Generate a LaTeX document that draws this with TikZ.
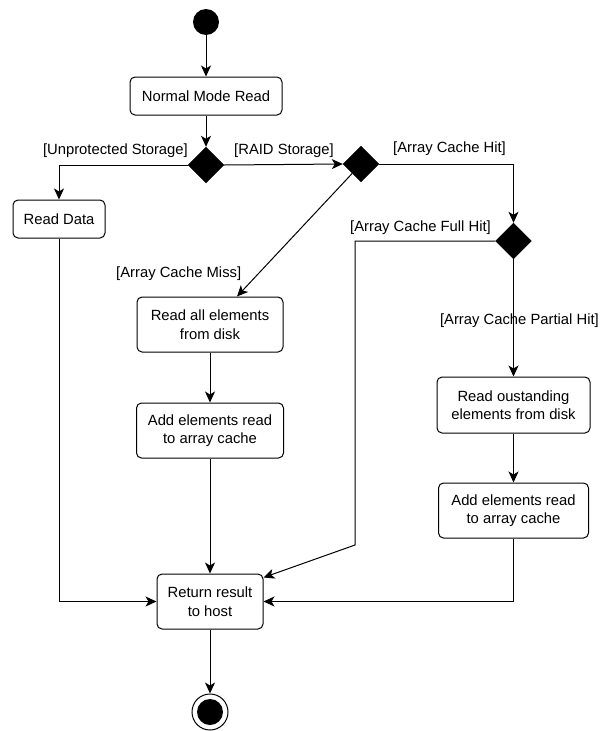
\documentclass[tikz,border=0pt]{standalone}
\usepackage{fontspec}
\setmainfont{Liberation Sans}
\usetikzlibrary{arrows.meta,shapes.geometric,calc}
\begin{document}
\begin{tikzpicture}[x=1pt,y=-1pt,
  every node/.style={font=\fontsize{14.8}{18.5}\selectfont},
  actbox/.style={draw,line width=1pt,rounded corners=5pt,align=center,inner sep=0pt},
  decision/.style={diamond,fill=black,draw=black,minimum width=36pt,minimum height=36pt,inner sep=0pt},
  guard/.style={inner sep=0pt},
  flow/.style={line width=1pt,-{Stealth[length=11pt,width=10pt,inset=3pt]}},
  wire/.style={line width=1pt}]
\useasboundingbox (0,0) rectangle (600,731);

% initial and final states
\node[circle,fill=black,minimum size=26pt,inner sep=0pt] (start) at (206,22) {};
\node[circle,draw,line width=1pt,minimum size=36pt,inner sep=0pt] (stop) at (210,712) {};
\node[circle,fill=black,minimum size=26pt,inner sep=0pt] (stopdot) at (210,712) {};

% activities
\node[actbox,minimum width=152pt,minimum height=38pt] (nmr) at (206,96) {Normal Mode Read};
\node[actbox,minimum width=92pt,minimum height=38pt] (rd) at (59,219) {Read Data};
\node[actbox,minimum width=146pt,minimum height=55pt] (rall) at (210,324.5) {Read all elements\\from disk};
\node[actbox,minimum width=147pt,minimum height=55pt] (addm) at (210,430.5) {Add elements read\\to array cache};
\node[actbox,minimum width=153pt,minimum height=56pt] (rout) at (513.5,405) {Read oustanding\\elements from disk};
\node[actbox,minimum width=150pt,minimum height=55pt] (addr) at (513.5,510.5) {Add elements read\\to array cache};
\node[actbox,minimum width=106pt,minimum height=55pt] (ret) at (210,601.5) {Return result\\to host};

% decisions
\node[decision] (d1) at (206,165) {};
\node[decision] (d2) at (361,164) {};
\node[decision] (d3) at (513.5,241) {};

% guards
\node[guard,anchor=east] (gunp) at (188,151) {[Unprotected Storage]};
\node[guard,anchor=west] (graid) at (234,151) {[RAID Storage]};
\node[guard,anchor=west] (ghit) at (393,149) {[Array Cache Hit]};
\node[guard,anchor=east] (gfull) at (491,228) {[Array Cache Full Hit]};
\node[guard,anchor=west] (gmiss) at (116,274) {[Array Cache Miss]};
\node[guard,anchor=east] (gpart) at (599,321) {[Array Cache Partial Hit]};

% helper points
\coordinate (missin) at ([xshift=27pt]rall.north);
\coordinate (fh1) at (355,241);
\coordinate (fh2) at (355,545);
\coordinate (fhin) at ([yshift=-4pt]ret.north east);

% flows
\draw[flow] (start) -- (nmr);
\draw[flow] (nmr) -- (d1);
\draw[flow] (d1.west) -| (rd.north);
\draw[flow] (d1.east) -- (d2.west);
\draw[flow] (d2.east) -| (d3.north);
\draw[flow] (d2) -- (missin);
\draw[flow] (d3.west) -- (fh1) -- (fh2) -- (fhin);
\draw[flow] (d3.south) -- (rout.north);
\draw[flow] (rout) -- (addr);
\draw[flow] (rall) -- (addm);
\draw[flow] (addm) -- (ret);
\draw[flow] (rd.south) |- (ret.west);
\draw[flow] (addr.south) |- (ret.east);
\draw[flow] (ret) -- (stop);
\end{tikzpicture}
\end{document}
